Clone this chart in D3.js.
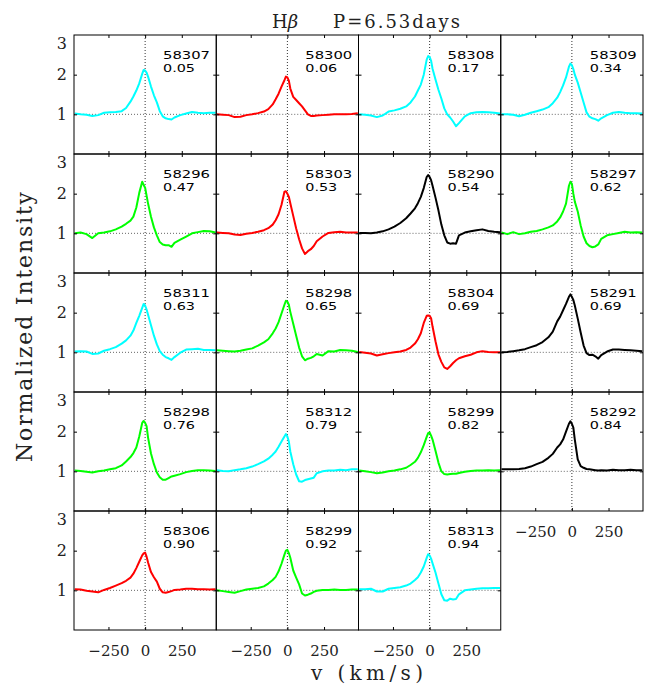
<!DOCTYPE html>
<html>
<head>
<meta charset="utf-8">
<script src="https://cdn.jsdelivr.net/npm/d3@7"></script>
<style>
  body { margin: 0; background: #fff; }
</style>
</head>
<body>
<div id="chart"></div>
<script>
// velocity grid (km/s) shared by every profile
const velocity = [-480, -440, -400, -360, -320, -280, -240, -200, -160, -130, -100, -80, -60, -40, -20, -10,
                  0, 10, 20, 40, 60, 80, 100, 120, 140, 160, 180, 200, 240, 280, 320, 360, 400, 440, 480];

const mjds   = ["58307", "58300", "58308", "58309", "58296", "58303", "58290", "58297", "58311", "58298",
                "58304", "58291", "58298", "58312", "58299", "58292", "58306", "58299", "58313"];
const phases = ["0.05", "0.06", "0.17", "0.34", "0.47", "0.53", "0.54", "0.62", "0.63", "0.65",
                "0.69", "0.69", "0.76", "0.79", "0.82", "0.84", "0.90", "0.92", "0.94"];
const lineColors = ["#00ffff", "#ff0000", "#00ffff", "#00ffff", "#00ff00", "#ff0000", "#000000", "#00ff00",
                    "#00ffff", "#00ff00", "#ff0000", "#000000", "#00ff00", "#00ffff", "#00ff00", "#000000",
                    "#ff0000", "#00ff00", "#00ffff"];

// normalized intensity at the velocity grid
const profile01 = [1.02, 1.00, 0.99, 0.96, 0.98, 1.04, 1.05, 1.06, 1.08, 1.16, 1.32, 1.45, 1.60, 1.78, 2.02, 2.12,
                   2.10, 2.05, 1.95, 1.70, 1.48, 1.30, 1.08, 0.95, 0.90, 0.88, 0.87, 0.92, 0.98, 1.02, 1.06, 1.04, 1.03, 1.04, 1.04];
const profile02 = [1.00, 0.99, 0.98, 0.93, 0.94, 0.98, 1.00, 1.03, 1.07, 1.13, 1.25, 1.38, 1.52, 1.70, 1.86, 1.95,
                   1.93, 1.85, 1.65, 1.44, 1.36, 1.28, 1.20, 1.10, 1.00, 0.96, 0.96, 0.97, 0.98, 0.99, 1.00, 1.00, 1.00, 1.01, 1.03];
const profile03 = [1.00, 0.99, 0.97, 0.93, 0.97, 1.07, 1.10, 1.14, 1.20, 1.30, 1.45, 1.60, 1.75, 2.00, 2.38, 2.47,
                   2.45, 2.35, 2.15, 1.88, 1.62, 1.40, 1.15, 1.00, 0.92, 0.82, 0.70, 0.78, 0.95, 1.03, 1.05, 1.06, 1.05, 1.04, 1.02];
const profile04 = [1.00, 1.00, 0.99, 0.95, 0.99, 1.04, 1.08, 1.12, 1.18, 1.28, 1.42, 1.56, 1.73, 1.93, 2.20, 2.28,
                   2.24, 2.14, 2.00, 1.80, 1.55, 1.30, 1.05, 0.94, 0.90, 0.88, 0.84, 0.90, 0.98, 1.04, 1.06, 1.04, 1.03, 1.03, 1.02];
const profile05 = [1.00, 1.02, 0.98, 0.88, 1.00, 1.02, 1.05, 1.10, 1.17, 1.24, 1.32, 1.42, 1.65, 2.02, 2.30, 2.22,
                   2.15, 1.95, 1.75, 1.42, 1.15, 0.95, 0.78, 0.72, 0.70, 0.70, 0.66, 0.76, 0.84, 0.92, 1.00, 1.03, 1.06, 1.05, 1.02];
const profile06 = [1.02, 1.01, 1.00, 0.97, 0.96, 0.99, 1.01, 1.04, 1.08, 1.13, 1.22, 1.33, 1.48, 1.72, 2.05, 2.06,
                   2.00, 1.92, 1.76, 1.44, 1.12, 0.85, 0.62, 0.48, 0.55, 0.60, 0.68, 0.80, 0.92, 1.01, 1.03, 1.04, 1.02, 1.02, 1.02];
const profile07 = [1.01, 1.01, 1.00, 1.02, 1.05, 1.10, 1.17, 1.26, 1.38, 1.50, 1.63, 1.76, 1.92, 2.14, 2.42, 2.47,
                   2.42, 2.34, 2.20, 1.90, 1.58, 1.22, 0.95, 0.77, 0.74, 0.75, 0.74, 0.95, 1.02, 1.05, 1.08, 1.10, 1.06, 1.04, 1.03];
const profile08 = [1.02, 0.98, 1.03, 0.98, 1.00, 1.04, 1.06, 1.10, 1.15, 1.20, 1.30, 1.40, 1.55, 1.75, 2.20, 2.30,
                   2.25, 2.00, 1.80, 1.55, 1.20, 0.92, 0.75, 0.68, 0.65, 0.67, 0.72, 0.86, 0.95, 0.98, 1.01, 1.04, 1.02, 1.03, 1.02];
const profile09 = [1.02, 1.03, 1.02, 0.96, 0.97, 1.04, 1.08, 1.13, 1.22, 1.30, 1.42, 1.55, 1.74, 1.92, 2.12, 2.22,
                   2.18, 2.08, 1.95, 1.68, 1.42, 1.20, 1.03, 0.94, 0.88, 0.85, 0.81, 0.88, 0.99, 1.07, 1.08, 1.09, 1.06, 1.06, 1.05];
const profile10 = [1.05, 1.04, 1.03, 1.02, 1.04, 1.07, 1.10, 1.17, 1.25, 1.33, 1.48, 1.60, 1.76, 1.98, 2.20, 2.30,
                   2.28, 2.20, 2.02, 1.72, 1.42, 1.12, 0.90, 0.80, 0.84, 0.86, 0.90, 0.96, 0.92, 1.03, 1.02, 1.06, 1.05, 1.04, 1.01];
const profile11 = [1.01, 0.99, 0.97, 0.92, 0.95, 0.98, 1.00, 1.02, 1.06, 1.12, 1.22, 1.33, 1.48, 1.74, 1.92, 1.93,
                   1.92, 1.86, 1.65, 1.28, 0.95, 0.76, 0.62, 0.58, 0.65, 0.73, 0.80, 0.85, 0.90, 0.94, 1.00, 1.03, 1.01, 1.00, 1.00];
const profile12 = [1.00, 1.01, 1.03, 1.05, 1.08, 1.13, 1.18, 1.26, 1.38, 1.52, 1.78, 1.90, 2.06, 2.22, 2.40, 2.46,
                   2.40, 2.32, 2.18, 1.85, 1.50, 1.17, 0.98, 0.93, 0.94, 0.90, 0.84, 0.93, 1.02, 1.07, 1.07, 1.06, 1.05, 1.04, 1.03];
const profile13 = [1.02, 1.01, 0.99, 0.97, 1.00, 1.02, 1.05, 1.08, 1.15, 1.25, 1.36, 1.46, 1.60, 1.88, 2.22, 2.27,
                   2.22, 2.14, 1.85, 1.45, 1.18, 0.97, 0.85, 0.79, 0.79, 0.83, 0.87, 0.89, 0.93, 0.98, 1.01, 1.03, 1.03, 1.02, 1.01];
const profile14 = [1.03, 1.01, 1.00, 1.03, 1.05, 1.08, 1.12, 1.18, 1.25, 1.32, 1.42, 1.50, 1.62, 1.75, 1.88, 1.94,
                   1.88, 1.75, 1.50, 1.18, 0.92, 0.75, 0.74, 0.78, 0.80, 0.82, 0.84, 0.95, 1.00, 1.02, 1.02, 1.04, 1.03, 1.05, 1.05];
const profile15 = [1.02, 1.00, 0.98, 0.95, 0.97, 1.00, 1.02, 1.05, 1.09, 1.16, 1.24, 1.34, 1.48, 1.66, 1.87, 1.96,
                   1.98, 1.90, 1.80, 1.52, 1.22, 1.00, 0.93, 0.92, 0.93, 0.94, 0.94, 0.96, 0.99, 1.01, 1.02, 1.02, 1.03, 1.02, 1.03];
const profile16 = [1.05, 1.05, 1.05, 1.06, 1.08, 1.12, 1.18, 1.24, 1.34, 1.44, 1.60, 1.68, 1.80, 2.00, 2.20, 2.26,
                   2.20, 2.10, 1.80, 1.30, 1.13, 1.09, 1.06, 1.05, 1.04, 1.03, 1.02, 1.03, 1.02, 1.04, 1.03, 1.03, 1.04, 1.03, 1.03];
const profile17 = [1.03, 1.02, 0.99, 0.97, 0.95, 1.01, 1.06, 1.12, 1.18, 1.24, 1.32, 1.42, 1.56, 1.72, 1.88, 1.93,
                   1.95, 1.85, 1.70, 1.46, 1.33, 1.22, 1.04, 0.95, 0.94, 0.96, 0.98, 1.01, 1.02, 1.04, 1.04, 1.03, 1.03, 1.02, 1.03];
const profile18 = [1.00, 0.98, 0.96, 0.94, 0.98, 1.02, 1.04, 1.06, 1.10, 1.17, 1.26, 1.34, 1.48, 1.67, 1.90, 2.00,
                   2.02, 1.94, 1.82, 1.50, 1.32, 1.15, 0.92, 0.87, 0.89, 0.92, 0.96, 0.99, 1.01, 1.01, 1.02, 1.01, 1.01, 1.02, 1.02];
const profile19 = [1.03, 1.03, 1.04, 0.97, 0.97, 1.04, 1.06, 1.08, 1.12, 1.17, 1.26, 1.33, 1.45, 1.60, 1.82, 1.91,
                   1.88, 1.80, 1.68, 1.45, 1.17, 0.90, 0.75, 0.74, 0.79, 0.77, 0.78, 0.90, 1.00, 1.02, 1.04, 1.05, 1.05, 1.06, 1.06];

const profiles = [profile01, profile02, profile03, profile04, profile05, profile06, profile07, profile08,
                  profile09, profile10, profile11, profile12, profile13, profile14, profile15, profile16,
                  profile17, profile18, profile19];

const yTicks = [1, 2, 3];
const xTicks = [-250, 0, 250];

// layout
const width = 655, height = 684;
const margin = { left: 74, top: 35 };
const panelW = 142.25, panelH = 119, nCols = 4;
const serif = "'DejaVu Serif', serif";
const sans = "'DejaVu Sans', sans-serif";

const svg = d3.select("#chart").append("svg")
    .attr("width", width)
    .attr("height", height);

const x = d3.scaleLinear().domain([-485, 485]).range([0, panelW]);
const y = d3.scaleLinear().domain([0, 3]).range([panelH, 0]);

const line = d3.line()
    .x((d, i) => x(velocity[i]))
    .y(d => y(d));

const noDomain = s => s.select(".domain").remove();

profiles.forEach((prof, k) => {
    const col = k % nCols, row = Math.floor(k / nCols);
    const g = svg.append("g")
        .attr("transform", `translate(${margin.left + col * panelW}, ${margin.top + row * panelH})`);

    // dotted guides at v = 0 and I = 1
    g.append("line")
        .attr("x1", x(0)).attr("x2", x(0))
        .attr("y1", 0).attr("y2", panelH)
        .attr("stroke", "#333").attr("stroke-dasharray", "1,2");
    g.append("line")
        .attr("x1", 0).attr("x2", panelW)
        .attr("y1", y(1)).attr("y2", y(1))
        .attr("stroke", "#666").attr("stroke-dasharray", "1,2");

    g.append("path")
        .datum(prof)
        .attr("fill", "none")
        .attr("stroke", lineColors[k])
        .attr("stroke-width", 2)
        .attr("stroke-linejoin", "round")
        .attr("d", line);

    // inward ticks on all four sides
    g.append("g").call(d3.axisLeft(y).tickValues([1, 2]).tickSize(-3).tickFormat("")).call(noDomain);
    g.append("g").attr("transform", `translate(${panelW},0)`)
        .call(d3.axisRight(y).tickValues([1, 2]).tickSize(-3).tickFormat("")).call(noDomain);
    g.append("g").call(d3.axisTop(x).tickValues(xTicks).tickSize(-3).tickFormat("")).call(noDomain);
    g.append("g").attr("transform", `translate(0,${panelH})`)
        .call(d3.axisBottom(x).tickValues(xTicks).tickSize(-3).tickFormat("")).call(noDomain);

    g.append("rect")
        .attr("width", panelW).attr("height", panelH)
        .attr("fill", "none").attr("stroke", "#000").attr("stroke-width", 1);

    // MJD and phase, two separate lines
    g.append("text")
        .attr("font-family", sans).attr("font-size", 11.3).attr("fill", "#000")
        .attr("x", 89).attr("y", 23.5)
        .attr("textLength", 47).attr("lengthAdjust", "spacingAndGlyphs")
        .text(mjds[k]);
    g.append("text")
        .attr("font-family", sans).attr("font-size", 11.3).attr("fill", "#000")
        .attr("x", 89).attr("y", 37)
        .attr("textLength", 32).attr("lengthAdjust", "spacingAndGlyphs")
        .text(phases[k]);

    if (col === 0) {
        const ya = g.append("g")
            .call(d3.axisLeft(y).tickValues(yTicks).tickSize(0).tickPadding(7).tickFormat(d3.format("d")))
            .call(noDomain);
        ya.selectAll("text").attr("font-family", serif).attr("font-size", 16).attr("fill", "#222");
        ya.selectAll("text").filter(d => d === 3).attr("dy", "0.85em");
    }

    if (k + nCols >= profiles.length) {
        const xa = g.append("g").attr("transform", `translate(0,${panelH})`)
            .call(d3.axisBottom(x).tickValues(xTicks).tickSize(0).tickPadding(15))
            .call(noDomain);
        xa.selectAll("text").attr("font-family", serif).attr("font-size", 15).attr("fill", "#222");
    }
});

// title
svg.append("text")
    .attr("font-family", serif).attr("font-size", 18).attr("fill", "#222")
    .attr("x", 272).attr("y", 28)
    .html("H<tspan font-style=\"italic\">β</tspan>");
svg.append("text")
    .attr("font-family", serif).attr("font-size", 18).attr("fill", "#222")
    .attr("x", 333).attr("y", 28)
    .attr("textLength", 127).attr("lengthAdjust", "spacing")
    .text("P=6.53days");

// axis titles
svg.append("text")
    .attr("font-family", serif).attr("font-size", 22).attr("fill", "#222")
    .attr("text-anchor", "middle")
    .attr("transform", "translate(32, 327) rotate(-90)")
    .attr("textLength", 270).attr("lengthAdjust", "spacing")
    .text("Normalized Intensity");

svg.append("text")
    .attr("font-family", serif).attr("font-size", 20).attr("fill", "#222")
    .attr("text-anchor", "middle")
    .attr("x", 367).attr("y", 680)
    .attr("textLength", 112).attr("lengthAdjust", "spacing")
    .text("v (km/s)");
</script>
</body>
</html>
